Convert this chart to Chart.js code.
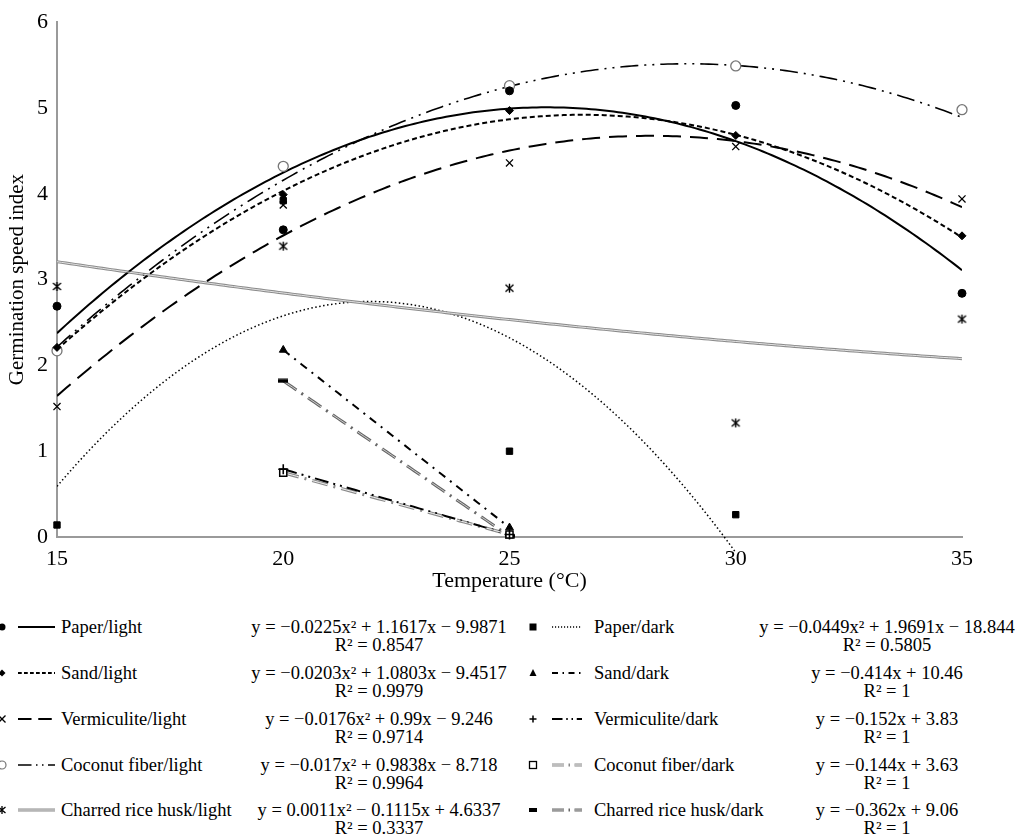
<!DOCTYPE html>
<html>
<head>
<meta charset="utf-8">
<script src="https://cdn.jsdelivr.net/npm/chart.js@4.4.1/dist/chart.umd.min.js"></script>
<style>
  html, body { margin: 0; padding: 0; background: #fff; }
  body { width: 1027px; height: 837px; position: relative; overflow: hidden;
         font-family: "Liberation Serif", "Times New Roman", serif; color: #000; }
  #wrap { position: absolute; left: 0; top: 0; width: 1027px; height: 600px; }
  .lg { position: absolute; font-size: 18.5px; line-height: 20px; white-space: nowrap; }
  .eq { position: absolute; font-size: 18.5px; line-height: 18px; text-align: center; width: 340px; white-space: nowrap; }
  .sw { position: absolute; }
</style>
</head>
<body>
<div id="wrap"><canvas id="chart"></canvas></div>
<div id="legend"></div>
<script>
// Temperatures (°C) at which germination speed index was measured
const temperatures = [15, 20, 25, 30, 35];

// Germination speed index per substrate / light condition
const paperLight       = [2.69, 3.58, 5.20, 5.03, 2.84];
const sandLight        = [2.21, 3.99, 4.97, 4.68, 3.51];
const vermiculiteLight = [1.52, 3.87, 4.36, 4.55, 3.94];
const coconutLight     = [2.17, 4.32, 5.26, 5.49, 4.98];
const charredLight     = [2.92, 3.39, 2.90, 1.33, 2.54];
const paperDark        = [0.14, 3.92, 1.00, 0.26, null];
const sandDark         = [null, 2.18, 0.11, null, null];
const vermiculiteDark  = [null, 0.79, 0.03, null, null];
const coconutDark      = [null, 0.75, 0.03, null, null];
const charredDark      = [null, 1.82, 0.01, null, null];

// Trend coefficients [a, b, c] for y = a·x² + b·x + c
const paperLightFit       = [-0.0225, 1.1617, -9.9871];
const sandLightFit        = [-0.0203, 1.0803, -9.4517];
const vermiculiteLightFit = [-0.0176, 0.99, -9.246];
const coconutLightFit     = [-0.017, 0.9838, -8.718];
const charredLightFit     = [0.0011, -0.1115, 4.6337];
const paperDarkFit        = [-0.0449, 1.9691, -18.844];
const sandDarkFit         = [0, -0.414, 10.46];
const vermiculiteDarkFit  = [0, -0.152, 3.83];
const coconutDarkFit      = [0, -0.144, 3.63];
const charredDarkFit      = [0, -0.362, 9.06];

// Temperature span covered by each trend line
const lightFitRange  = [15, 35];
const paperDarkRange = [15, 30];
const darkFitRange   = [20, 25];

const seriesNames = ['Paper/light', 'Sand/light', 'Vermiculite/light', 'Coconut fiber/light',
  'Charred rice husk/light', 'Paper/dark', 'Sand/dark', 'Vermiculite/dark',
  'Coconut fiber/dark', 'Charred rice husk/dark'];
const equationLabels = [
  'y = −0.0225x² + 1.1617x − 9.9871', 'y = −0.0203x² + 1.0803x − 9.4517',
  'y = −0.0176x² + 0.99x − 9.246', 'y = −0.017x² + 0.9838x − 8.718',
  'y = 0.0011x² − 0.1115x + 4.6337', 'y = −0.0449x² + 1.9691x − 18.844',
  'y = −0.414x + 10.46', 'y = −0.152x + 3.83', 'y = −0.144x + 3.63', 'y = −0.362x + 9.06'];
const rSquaredLabels = ['0.8547', '0.9979', '0.9714', '0.9964', '0.3337',
  '0.5805', '1', '1', '1', '1'];

const tickLabelsX = [15, 20, 25, 30, 35];
const tickLabelsY = [0, 1, 2, 3, 4, 5, 6];

const seriesValues = [paperLight, sandLight, vermiculiteLight, coconutLight, charredLight,
  paperDark, sandDark, vermiculiteDark, coconutDark, charredDark];
const seriesFits = [paperLightFit, sandLightFit, vermiculiteLightFit, coconutLightFit, charredLightFit,
  paperDarkFit, sandDarkFit, vermiculiteDarkFit, coconutDarkFit, charredDarkFit];
const seriesRanges = [lightFitRange, lightFitRange, lightFitRange, lightFitRange, lightFitRange,
  paperDarkRange, darkFitRange, darkFitRange, darkFitRange, darkFitRange];

// ---- marker images ----
function markerCanvas(w, h, draw) {
  const c = document.createElement('canvas');
  c.width = w; c.height = h;
  const g = c.getContext('2d');
  draw(g, w, h);
  return c;
}
const zheMarker = markerCanvas(11, 11, (g) => {
  g.strokeStyle = '#000'; g.lineWidth = 1.4;
  g.beginPath();
  g.moveTo(1.5, 2); g.lineTo(9.5, 9); g.moveTo(9.5, 2); g.lineTo(1.5, 9);
  g.moveTo(5.5, 1); g.lineTo(5.5, 10);
  g.stroke();
});
const barMarker = markerCanvas(10, 5, (g) => {
  g.fillStyle = '#000'; g.fillRect(0, 0.5, 10, 4);
});

// Marker and line style per series (same order as seriesNames)
const markerStyles = [
  { pointStyle: 'circle', radius: 4, bg: '#000', border: '#000', bw: 1 },
  { pointStyle: 'rectRot', radius: 4, bg: '#000', border: '#000', bw: 1 },
  { pointStyle: 'crossRot', radius: 5, bg: '#000', border: '#000', bw: 1.3 },
  { pointStyle: 'circle', radius: 5, bg: '#fff', border: '#777', bw: 1.3 },
  { pointStyle: zheMarker, radius: 5, bg: '#000', border: '#000', bw: 1 },
  { pointStyle: 'rect', radius: 4.5, bg: '#000', border: '#000', bw: 1 },
  { pointStyle: 'triangle', radius: 4.5, bg: '#000', border: '#000', bw: 1 },
  { pointStyle: 'cross', radius: 5, bg: '#000', border: '#000', bw: 1.6 },
  { pointStyle: 'rect', radius: 5, bg: '#fff', border: '#000', bw: 1.5 },
  { pointStyle: barMarker, radius: 5, bg: '#000', border: '#000', bw: 1 }
];
const lineStyles = [
  { color: '#000', width: 2, dash: [] },
  { color: '#000', width: 2, dash: [5, 3] },
  { color: '#000', width: 2, dash: [18, 9] },
  { color: '#000', width: 1.6, dash: [18, 6, 2, 6, 2, 6] },
  { color: '#8a8a8a', width: 3, dash: [], inner: { color: '#e2e2e2', width: 1, dash: [] } },
  { color: '#000', width: 1.5, dash: [1.5, 2.5] },
  { color: '#000', width: 2, dash: [8, 6, 2, 6] },
  { color: '#000', width: 2, dash: [14, 5, 2, 5, 2, 5] },
  { color: '#8a8a8a', width: 3.2, dash: [16, 6, 2, 6], inner: { color: '#f0f0f0', width: 1, dash: [16, 14] } },
  { color: '#666', width: 3, dash: [16, 6, 2, 6], inner: { color: '#cfcfcf', width: 1, dash: [16, 14] } }
];

// Points along a trend line y = a·x² + b·x + c
function trendPoints(fit, range) {
  const pts = [];
  for (let x = range[0]; x <= range[1] + 1e-9; x += 0.1) {
    pts.push({ x: x, y: fit[0] * x * x + fit[1] * x + fit[2] });
  }
  return pts;
}

const datasets = [];
seriesNames.forEach((name, i) => {
  const m = markerStyles[i];
  datasets.push({
    label: name,
    data: temperatures.map((t, k) => ({ x: t, y: seriesValues[i][k] })).filter(p => p.y !== null),
    showLine: false,
    pointStyle: m.pointStyle,
    pointRadius: m.radius,
    pointBackgroundColor: m.bg,
    pointBorderColor: m.border,
    pointBorderWidth: m.bw,
    clip: false,
    order: 0
  });
});
seriesNames.forEach((name, i) => {
  const s = lineStyles[i];
  const pts = trendPoints(seriesFits[i], seriesRanges[i]);
  datasets.push({
    label: name + ' trend',
    data: pts,
    showLine: true,
    borderColor: s.color,
    borderWidth: s.width,
    borderDash: s.dash,
    pointRadius: 0,
    tension: 0,
    fill: false,
    clip: { left: 0, right: 0, top: 0, bottom: 20 },
    order: 2
  });
  if (s.inner) {
    datasets.push({
      label: name + ' trend inner',
      data: pts,
      showLine: true,
      borderColor: s.inner.color,
      borderWidth: s.inner.width,
      borderDash: s.inner.dash,
      pointRadius: 0,
      tension: 0,
      fill: false,
      clip: { left: 0, right: 0, top: 0, bottom: 20 },
      order: 1
    });
  }
});

const serif = '"Liberation Serif", "Times New Roman", serif';
const axisGray = '#9a9a9a';

new Chart(document.getElementById('chart'), {
  type: 'scatter',
  data: { datasets: datasets },
  options: {
    responsive: true,
    maintainAspectRatio: false,
    animation: false,
    layout: { padding: { top: 19, right: 65, bottom: 0, left: 0 } },
    plugins: { legend: { display: false }, tooltip: { enabled: false } },
    scales: {
      x: {
        type: 'linear', min: 15, max: 35,
        afterBuildTicks: (s) => { s.ticks = tickLabelsX.map(v => ({ value: v })); },
        afterFit: (s) => { s.height = 63; },
        grid: { display: false, drawTicks: false },
        border: { display: true, color: axisGray, width: 2 },
        ticks: { color: '#000', font: { family: serif, size: 22 }, padding: 9 },
        title: { display: true, text: 'Temperature (°C)', color: '#000',
                 font: { family: serif, size: 22 }, padding: { top: 0, bottom: 6 } }
      },
      y: {
        type: 'linear', min: 0, max: 6,
        afterBuildTicks: (s) => { s.ticks = tickLabelsY.map(v => ({ value: v })); },
        afterFit: (s) => { s.width = 57; },
        grid: { display: false, drawTicks: false },
        border: { display: true, color: axisGray, width: 2 },
        ticks: { color: '#000', font: { family: serif, size: 22 }, padding: 9 },
        title: { display: true, text: 'Germination speed index', color: '#000',
                 font: { family: serif, size: 21 }, padding: { top: 5, bottom: 0 } }
      }
    }
  }
});

// ---- legend below the plot ----
const legend = document.getElementById('legend');
const colX = [
  { marker: 2, lineFrom: 18, lineTo: 55, label: 61, eqCenter: 379 },
  { marker: 533, lineFrom: 552, lineTo: 582, label: 594, eqCenter: 887 }
];
const rowY = [627, 673, 719, 765, 810];

function markerSvg(i, cx, cy) {
  switch (i) {
    case 0: return `<circle cx="${cx}" cy="${cy}" r="3.5" fill="#000"/>`;
    case 1: return `<polygon points="${cx},${cy-3.5} ${cx+3.5},${cy} ${cx},${cy+3.5} ${cx-3.5},${cy}" fill="#000"/>`;
    case 2: return `<path d="M${cx-3.5} ${cy-3.5}L${cx+3.5} ${cy+3.5}M${cx+3.5} ${cy-3.5}L${cx-3.5} ${cy+3.5}" stroke="#000" stroke-width="1.3"/>`;
    case 3: return `<circle cx="${cx}" cy="${cy}" r="4" fill="#fff" stroke="#777" stroke-width="1.2"/>`;
    case 4: return `<path d="M${cx-3.5} ${cy-3}L${cx+3.5} ${cy+3}M${cx+3.5} ${cy-3}L${cx-3.5} ${cy+3}M${cx} ${cy-4}L${cx} ${cy+4}" stroke="#000" stroke-width="1.3"/>`;
    case 5: return `<rect x="${cx-3.5}" y="${cy-3.5}" width="7" height="7" fill="#000"/>`;
    case 6: return `<polygon points="${cx},${cy-4} ${cx+3.5},${cy+3} ${cx-3.5},${cy+3}" fill="#000"/>`;
    case 7: return `<path d="M${cx-3.5} ${cy}L${cx+3.5} ${cy}M${cx} ${cy-3.5}L${cx} ${cy+3.5}" stroke="#000" stroke-width="1.5"/>`;
    case 8: return `<rect x="${cx-3.5}" y="${cy-3.5}" width="7" height="7" fill="#fff" stroke="#000" stroke-width="1.3"/>`;
    default: return `<rect x="${cx-4}" y="${cy-2}" width="8" height="4" fill="#000"/>`;
  }
}

seriesNames.forEach((name, i) => {
  const col = colX[i < 5 ? 0 : 1];
  const y = rowY[i % 5];
  const s = lineStyles[i];
  const svgLeft = col.marker - 8;
  const w = col.lineTo - svgLeft + 2;
  const lx0 = col.lineFrom - svgLeft, lx1 = col.lineTo - svgLeft;
  const dashOf = (d) => d.length ? d.map(v => v * 0.75).join(' ') : 'none';
  let lines = `<line x1="${lx0}" y1="10" x2="${lx1}" y2="10" stroke="${s.color}" stroke-width="${s.width}" stroke-dasharray="${dashOf(s.dash)}"/>`;
  if (s.inner) {
    lines += `<line x1="${lx0}" y1="10" x2="${lx1}" y2="10" stroke="${s.inner.color}" stroke-width="${s.inner.width}" stroke-dasharray="${dashOf(s.inner.dash)}"/>`;
  }
  const sw = document.createElement('div');
  sw.className = 'sw';
  sw.style.left = svgLeft + 'px';
  sw.style.top = (y - 10) + 'px';
  sw.innerHTML = `<svg width="${w}" height="20">${markerSvg(i, 8, 10)}${lines}</svg>`;
  legend.appendChild(sw);

  const lab = document.createElement('div');
  lab.className = 'lg';
  lab.style.left = col.label + 'px';
  lab.style.top = (y - 10) + 'px';
  lab.textContent = name;
  legend.appendChild(lab);

  const eq = document.createElement('div');
  eq.className = 'eq';
  eq.style.left = (col.eqCenter - 170) + 'px';
  eq.style.top = (y - 9) + 'px';
  eq.innerHTML = equationLabels[i] + '<br>R² = ' + rSquaredLabels[i];
  legend.appendChild(eq);
});
</script>
</body>
</html>
